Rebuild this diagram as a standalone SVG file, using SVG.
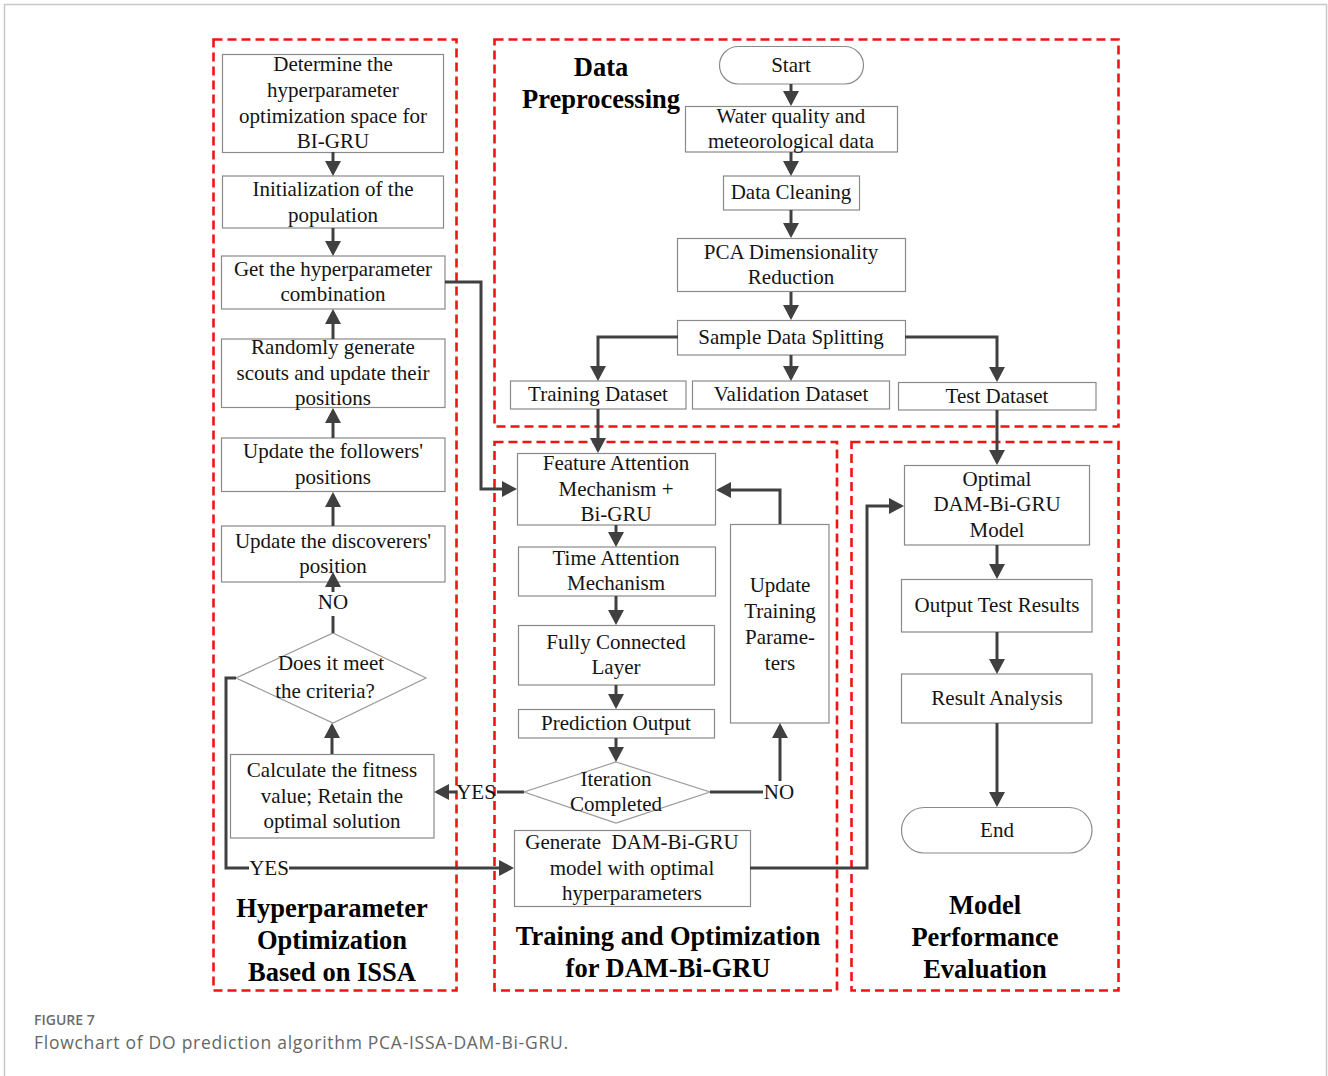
<svg xmlns="http://www.w3.org/2000/svg" width="1328" height="1076" viewBox="0 0 1328 1076">
<defs>
<style>
.box{fill:#fff;stroke:#8a8a8a;stroke-width:1.2}
.dia{fill:#fff;stroke:#9a9a9a;stroke-width:1.2}
.grp{fill:none;stroke:#f01414;stroke-width:2.6;stroke-dasharray:9 5}
.t{font-family:"Liberation Serif","Times New Roman",serif;font-size:21px;fill:#141414;text-anchor:middle}
.h{font-family:"Liberation Serif","Times New Roman",serif;font-size:26.5px;font-weight:bold;fill:#000;text-anchor:middle}
.c{fill:none;stroke:#404040;stroke-width:3}
.ca{fill:none;stroke:#404040;stroke-width:3;marker-end:url(#ah)}
</style>
<marker id="ah" viewBox="0 0 15 16" refX="12" refY="8" markerWidth="15" markerHeight="16" markerUnits="userSpaceOnUse" orient="auto">
<path d="M0,0 L15,8 L0,16 z" fill="#404040"/>
</marker>
</defs>
<rect x="0" y="0" width="1328" height="1076" fill="#fff"/>
<rect x="4.5" y="4.5" width="1322" height="1090" fill="none" stroke="#c8c8c8" stroke-width="1.5"/>

<g id="groups">
<rect class="grp" x="213.5" y="39.5" width="243" height="951"/>
<rect class="grp" x="494.5" y="39.5" width="624" height="387"/>
<rect class="grp" x="494.5" y="442" width="342.5" height="548.5"/>
<rect class="grp" x="851.5" y="442" width="267" height="548.5"/>
</g>

<g id="titles">
<text class="h" x="601" y="76">Data</text>
<text class="h" x="601" y="108">Preprocessing</text>
<text class="h" x="332" y="917">Hyperparameter</text>
<text class="h" x="332" y="949">Optimization</text>
<text class="h" x="332" y="981">Based on ISSA</text>
<text class="h" x="668" y="945">Training and Optimization</text>
<text class="h" x="668" y="977">for DAM-Bi-GRU</text>
<text class="h" x="985" y="914">Model</text>
<text class="h" x="985" y="946">Performance</text>
<text class="h" x="985" y="978">Evaluation</text>
</g>

<g id="n-determine"><rect class="box" x="222.5" y="54.5" width="221" height="98"/>
<text class="t" x="333" y="71">Determine the</text><text class="t" x="333" y="97">hyperparameter</text><text class="t" x="333" y="123">optimization space for</text><text class="t" x="333" y="148">BI-GRU</text></g>
<g id="n-init"><rect class="box" x="222.5" y="176" width="221" height="52"/>
<text class="t" x="333" y="196">Initialization of the</text><text class="t" x="333" y="222">population</text></g>
<g id="n-get"><rect class="box" x="221.5" y="256" width="223.5" height="53"/>
<text class="t" x="333" y="276">Get the hyperparameter</text><text class="t" x="333" y="301">combination</text></g>
<g id="n-random"><rect class="box" x="221.5" y="339" width="223.5" height="68.5"/>
<text class="t" x="333" y="354">Randomly generate</text><text class="t" x="333" y="380">scouts and update their</text><text class="t" x="333" y="405">positions</text></g>
<g id="n-followers"><rect class="box" x="221.5" y="438" width="223.5" height="53.5"/>
<text class="t" x="333" y="458">Update the followers'</text><text class="t" x="333" y="484">positions</text></g>
<g id="n-discoverers"><rect class="box" x="221.5" y="526" width="223.5" height="56"/>
<text class="t" x="333" y="548">Update the discoverers'</text><text class="t" x="333" y="573">position</text></g>
<g id="n-criteria"><polygon class="dia" points="333,633 426,678 333,723 236,678"/>
<text class="t" x="331" y="670">Does it meet</text><text class="t" x="325" y="698">the criteria?</text></g>
<g id="n-fitness"><rect class="box" x="230.5" y="754.5" width="203.5" height="83.5"/>
<text class="t" x="332" y="777">Calculate the fitness</text><text class="t" x="332" y="803">value; Retain the</text><text class="t" x="332" y="828">optimal solution</text></g>

<g id="n-start"><rect class="box" x="719.5" y="46.5" width="144" height="37.5" rx="18.75"/>
<text class="t" x="791" y="72">Start</text></g>
<g id="n-water"><rect class="box" x="685.5" y="106.5" width="212" height="45.5"/>
<text class="t" x="791" y="123">Water quality and</text><text class="t" x="791" y="148">meteorological data</text></g>
<g id="n-clean"><rect class="box" x="723.5" y="176" width="136" height="34"/>
<text class="t" x="791" y="199">Data Cleaning</text></g>
<g id="n-pca"><rect class="box" x="677.5" y="238.5" width="228" height="53"/>
<text class="t" x="791" y="259">PCA Dimensionality</text><text class="t" x="791" y="284">Reduction</text></g>
<g id="n-split"><rect class="box" x="677.5" y="320.5" width="228" height="34.5"/>
<text class="t" x="791" y="344">Sample Data Splitting</text></g>
<g id="n-train"><rect class="box" x="510.5" y="381" width="175.5" height="28"/>
<text class="t" x="598" y="401">Training Dataset</text></g>
<g id="n-valid"><rect class="box" x="692.5" y="381" width="197" height="28"/>
<text class="t" x="791" y="401">Validation Dataset</text></g>
<g id="n-test"><rect class="box" x="898.5" y="382.5" width="197.5" height="27.5"/>
<text class="t" x="997" y="403">Test Dataset</text></g>

<g id="n-feature"><rect class="box" x="517.5" y="453.5" width="198" height="71.5"/>
<text class="t" x="616" y="470">Feature Attention</text><text class="t" x="616" y="496">Mechanism +</text><text class="t" x="616" y="521">Bi-GRU</text></g>
<g id="n-time"><rect class="box" x="518.5" y="547" width="197" height="49"/>
<text class="t" x="616" y="565">Time Attention</text><text class="t" x="616" y="590">Mechanism</text></g>
<g id="n-fully"><rect class="box" x="518.5" y="625.5" width="196" height="59.5"/>
<text class="t" x="616" y="649">Fully Connected</text><text class="t" x="616" y="674">Layer</text></g>
<g id="n-pred"><rect class="box" x="518.5" y="709.5" width="196" height="28.5"/>
<text class="t" x="616" y="730">Prediction Output</text></g>
<g id="n-iter"><polygon class="dia" points="616,762 710,792 616,823 524,792"/>
<text class="t" x="616" y="786">Iteration</text><text class="t" x="616" y="811">Completed</text></g>
<g id="n-update"><rect class="box" x="730.5" y="524.5" width="98.5" height="198.5"/>
<text class="t" x="780" y="592">Update</text><text class="t" x="780" y="618">Training</text><text class="t" x="780" y="644">Parame-</text><text class="t" x="780" y="670">ters</text></g>
<g id="n-generate"><rect class="box" x="514.5" y="830.5" width="236" height="76"/>
<text class="t" x="632" y="849" xml:space="preserve">Generate  DAM-Bi-GRU</text><text class="t" x="632" y="875">model with optimal</text><text class="t" x="632" y="900">hyperparameters</text></g>

<g id="n-optimal"><rect class="box" x="904.5" y="465.5" width="185" height="79.5"/>
<text class="t" x="997" y="486">Optimal</text><text class="t" x="997" y="511">DAM-Bi-GRU</text><text class="t" x="997" y="537">Model</text></g>
<g id="n-output"><rect class="box" x="901.5" y="579.5" width="190.5" height="52.5"/>
<text class="t" x="997" y="612">Output Test Results</text></g>
<g id="n-result"><rect class="box" x="901.5" y="674" width="190.5" height="49"/>
<text class="t" x="997" y="705">Result Analysis</text></g>
<g id="n-end"><rect class="box" x="901.5" y="807.5" width="190.5" height="45.5" rx="22.75"/>
<text class="t" x="997" y="837">End</text></g>

<g id="connectors">
<path class="ca" d="M791,84 V103"/>
<path class="ca" d="M791,152 V173"/>
<path class="ca" d="M791,210 V235"/>
<path class="ca" d="M791,292 V317"/>
<path class="ca" d="M791,355 V378"/>
<path class="ca" d="M678,337 H598 V378"/>
<path class="ca" d="M905,337 H997 V379"/>
<path class="ca" d="M598,409 V450"/>
<path class="ca" d="M997,410 V462"/>
<path class="ca" d="M616,525 V544"/>
<path class="ca" d="M616,596 V622"/>
<path class="ca" d="M616,685 V706"/>
<path class="ca" d="M616,738 V759"/>
<path class="c" d="M524,792 H497"/>
<path class="ca" d="M457,792 H437"/>
<path class="c" d="M710,792 H763"/>
<path class="ca" d="M780,781 V726"/>
<path class="ca" d="M780,524 V490 H719"/>
<path class="ca" d="M445,282 H481 V489 H514"/>
<path class="ca" d="M750,868 H867 V506 H901"/>
<path class="ca" d="M997,545 V576"/>
<path class="ca" d="M997,632 V671"/>
<path class="ca" d="M997,723 V804"/>
<path class="ca" d="M333,152 V173"/>
<path class="ca" d="M333,228 V253"/>
<path class="ca" d="M333,339 V312"/>
<path class="ca" d="M333,438 V411"/>
<path class="ca" d="M333,526 V495"/>
<path class="c" d="M333,633 V616"/>
<path class="ca" d="M333,592 V575"/>
<path class="ca" d="M332,754 V726"/>
<path class="c" d="M236,678 H226 V868 H249"/>
<path class="ca" d="M289,868 H511"/>
</g>

<g id="labels">
<text class="t" x="333" y="609">NO</text>
<text class="t" x="476" y="799">YES</text>
<text class="t" x="779" y="799">NO</text>
<text class="t" x="269" y="875">YES</text>
</g>

<g id="caption">
<text x="34" y="1025" font-family="'Open Sans','Noto Sans',sans-serif" font-size="14" fill="#6b6b6b" font-weight="600">FIGURE 7</text>
<text x="34" y="1049" font-family="'Open Sans','Noto Sans',sans-serif" font-size="17.5" fill="#666" textLength="534">Flowchart of DO prediction algorithm PCA-ISSA-DAM-Bi-GRU.</text>
</g>
</svg>
